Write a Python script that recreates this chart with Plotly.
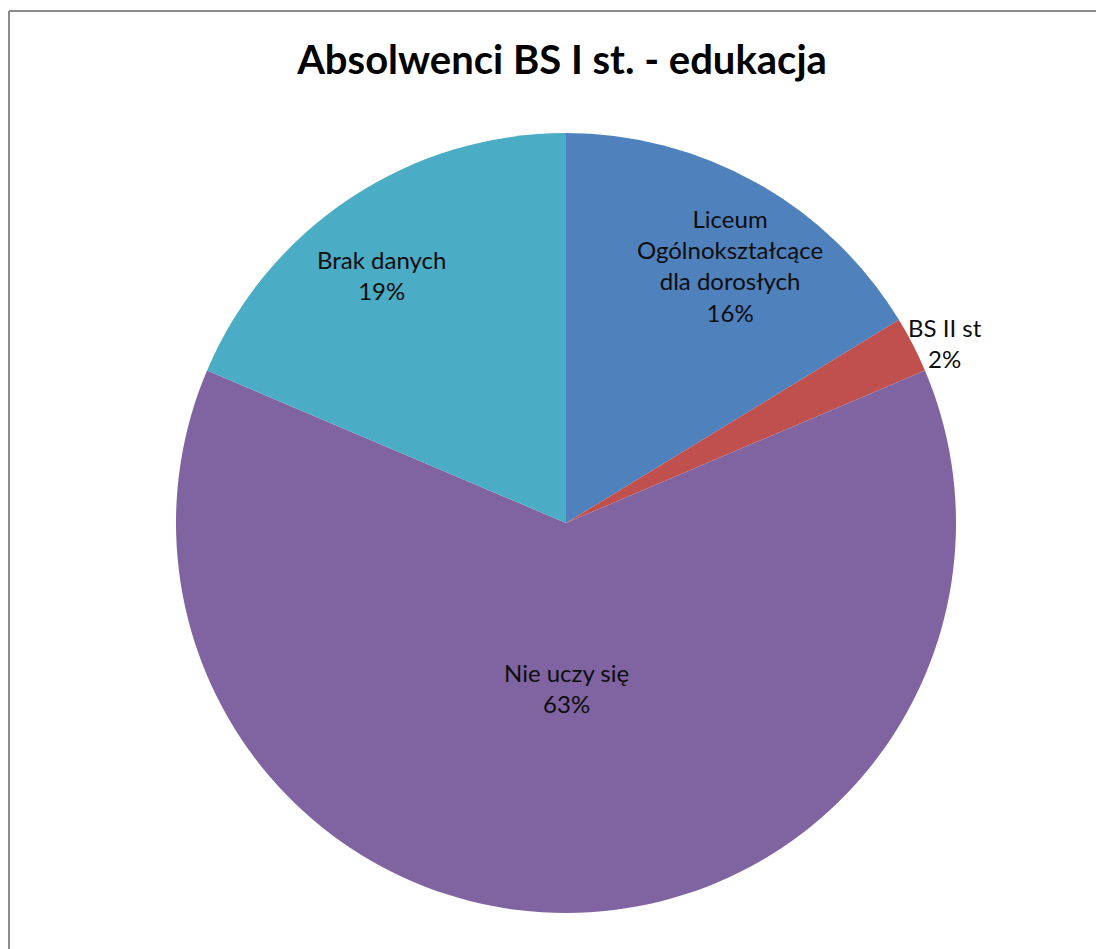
import math
import plotly.graph_objects as go

categories = ["Liceum<br>Ogólnokształcące<br>dla dorosłych", "BS II st", "Nie uczy się", "Brak danych"]
counts = [7, 1, 27, 8]
colors = ["#4F81BD", "#C0504D", "#8064A2", "#4BACC6"]

# label placement style: radius fraction along the slice bisector + pixel nudges
label_radius = [0.784, 1.076, 0.423, 0.793]
label_shift = [(14, -9), (6, -12), (0, 0), (-14, -10)]

W, H = 1104, 949
cx, cy, r = 558, 515, 390  # pie centre / radius in page pixels

fig = go.Figure(go.Pie(
    labels=categories,
    values=counts,
    sort=False,
    direction="clockwise",
    rotation=0,
    marker=dict(colors=colors, line=dict(width=0)),
    textinfo="none",
    showlegend=False,
    hoverinfo="label+percent",
    domain=dict(x=[(cx - r) / W, (cx + r) / W], y=[1 - (cy + r) / H, 1 - (cy - r) / H]),
))

total = sum(counts)
annotations = []
cum = 0
for lab, v, rf, (sx, sy) in zip(categories, counts, label_radius, label_shift):
    mid = 2 * math.pi * (cum + v / 2) / total
    cum += v
    px = cx + rf * r * math.sin(mid)
    py = cy - rf * r * math.cos(mid)
    pct = round(100 * v / total)
    annotations.append(dict(
        x=px / W, y=1 - py / H, xref="paper", yref="paper",
        text=f"{lab}<br>{pct}%", showarrow=False, xanchor="center", yanchor="middle",
        xshift=sx, yshift=sy, align="center",
        font=dict(family="Lato, sans-serif", size=24, color="#0D0D0D"),
    ))

fig.update_layout(
    width=W, height=H,
    margin=dict(l=0, r=0, t=0, b=0),
    paper_bgcolor="white",
    title=dict(text="<b>Absolwenci BS I st. - edukacja</b>", x=554 / W, xanchor="center",
               y=1 - 52 / H, yanchor="middle",
               font=dict(family="Lato, sans-serif", size=40, color="#000000")),
    annotations=annotations,
    shapes=[
        dict(type="line", xref="paper", yref="paper", x0=1 / W, x1=1.0, y0=1 - 3 / H, y1=1 - 3 / H,
             line=dict(color="#8C8C8C", width=2)),
        dict(type="line", xref="paper", yref="paper", x0=1 / W, x1=1 / W, y0=0, y1=1 - 3 / H,
             line=dict(color="#8C8C8C", width=2)),
    ],
)

fig.write_html("out.html")
